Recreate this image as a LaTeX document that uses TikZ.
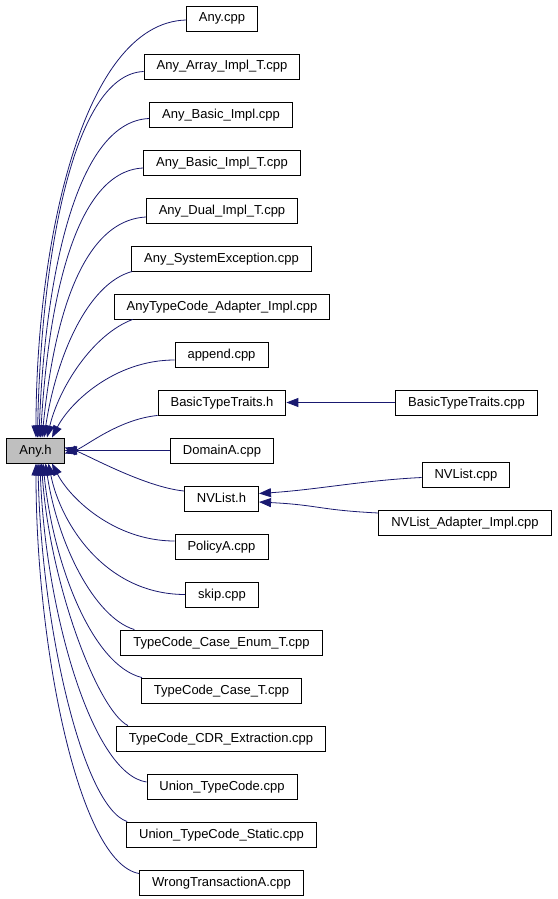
\documentclass[tikz,border=0pt]{standalone}
\usepackage{fontspec}
\setmainfont{Liberation Sans}
\usetikzlibrary{arrows.meta}
\definecolor{edgeblue}{RGB}{25,25,112}
\definecolor{hgray}{RGB}{191,191,191}
\begin{document}
\begin{tikzpicture}[x=1pt,y=-1pt,
  box/.style={draw=black, line width=0.9pt, minimum height=25pt, inner xsep=12.5pt, inner ysep=0pt,
    text height=9.5pt, text depth=2.5pt, font=\fontsize{13}{15}\selectfont, fill=white},
  dep/.style={draw=edgeblue, line width=0.8pt, -{Triangle[length=12pt,width=9pt]}},
]
\path[use as bounding box] (0,0) rectangle (557,899);

\node[box, fill=hgray] (anyh) at (35.5,450.5) {Any.h};

\node[box] (anycpp)  at (222,18.5)  {Any.cpp};
\node[box] (array)   at (222,66.5)  {Any\_Array\_Impl\_T.cpp};
\node[box] (basic)   at (221,114.5) {Any\_Basic\_Impl.cpp};
\node[box] (basict)  at (222,162.5) {Any\_Basic\_Impl\_T.cpp};
\node[box] (dual)    at (222,210.5) {Any\_Dual\_Impl\_T.cpp};
\node[box] (sysexc)  at (221.5,258.5) {Any\_SystemException.cpp};
\node[box] (atc)     at (222,306.5) {AnyTypeCode\_Adapter\_Impl.cpp};
\node[box] (append)  at (221.5,354.5) {append.cpp};
\node[box] (btth)    at (222,402.5) {BasicTypeTraits.h};
\node[box] (domain)  at (222,450.5) {DomainA.cpp};
\node[box] (nvlisth) at (221.5,498.5) {NVList.h};
\node[box] (policy)  at (221.5,546.5) {PolicyA.cpp};
\node[box] (skip)    at (222,594.5) {skip.cpp};
\node[box] (enum)    at (221.5,642.5) {TypeCode\_Case\_Enum\_T.cpp};
\node[box] (caset)   at (221.5,690.5) {TypeCode\_Case\_T.cpp};
\node[box] (cdr)     at (221,738.5) {TypeCode\_CDR\_Extraction.cpp};
\node[box] (union)   at (222,786.5) {Union\_TypeCode.cpp};
\node[box] (ustatic) at (221.5,834.5) {Union\_TypeCode\_Static.cpp};
\node[box] (wrong)   at (221.5,882.5) {WrongTransactionA.cpp};

\node[box] (bttcpp)    at (466.5,402.5) {BasicTypeTraits.cpp};
\node[box] (nvlistcpp) at (466,474.5)   {NVList.cpp};
\node[box] (nvadapter) at (465,522.5)   {NVList\_Adapter\_Impl.cpp};

% upper group -> top of Any.h
\draw[dep] ([yshift=-1.5pt]anycpp.west) .. controls +(-105,3) and +(0,-189) .. ([xshift=0.5pt]anyh.north);
\draw[dep] ([yshift=-5pt]array.west) .. controls +(-74,3) and +(3,-165) .. ([xshift=2pt]anyh.north);
\draw[dep] ([yshift=-4pt]basic.west) .. controls +(-77,3) and +(5,-144) .. ([xshift=3.5pt]anyh.north);
\draw[dep] ([yshift=-5.5pt]basict.west) .. controls +(-72,3) and +(7,-122) .. ([xshift=5pt]anyh.north);
\draw[dep] ([yshift=-6.5pt]dual.west) .. controls +(-70,4) and +(10,-100) .. ([xshift=6.5pt]anyh.north);
\draw[dep] ([xshift=1pt]sysexc.south west) .. controls +(-45,12) and +(12,-80) .. ([xshift=8.5pt]anyh.north);
\draw[dep] ([xshift=19pt]atc.south west) .. controls +(-40,15) and +(12,-50) .. ([xshift=11.5pt]anyh.north);
\draw[dep] ([yshift=-5.5pt]append.west) .. controls +(-60,0) and +(18,-35) .. ([xshift=16.5pt]anyh.north);

% side group
\draw[dep] (btth.south west) .. controls +(-40,4) and +(20,-6) .. ([yshift=-3pt]anyh.east);
\draw[dep] (domain) -- (anyh);
\draw[dep] ([yshift=7.5pt]nvlisth.west) .. controls +(-40,-4) and +(20,6) .. ([yshift=3pt]anyh.east);

% lower group -> bottom of Any.h
\draw[dep] ([yshift=5.5pt]policy.west) .. controls +(-60,0) and +(18,35) .. ([xshift=16.5pt]anyh.south);
\draw[dep] (skip.west) .. controls +(-80,0) and +(12,60) .. ([xshift=13pt]anyh.south);
\draw[dep] ([xshift=14pt]enum.north west) .. controls +(-40,-12) and +(12,80) .. ([xshift=10pt]anyh.south);
\draw[dep] ([xshift=1pt]caset.north west) .. controls +(-50,-12) and +(10,100) .. ([xshift=7.5pt]anyh.south);
\draw[dep] ([xshift=12pt]cdr.north west) .. controls +(-30,-15) and +(8,120) .. ([xshift=6pt]anyh.south);
\draw[dep] ([yshift=4.5pt]union.west) .. controls +(-55,-8) and +(5,145) .. ([xshift=4.5pt]anyh.south);
\draw[dep] ([xshift=1pt]ustatic.north west) .. controls +(-45,-15) and +(3,160) .. ([xshift=2.5pt]anyh.south);
\draw[dep] ([yshift=9pt]wrong.west) .. controls +(-60,-10) and +(0,185) .. ([xshift=0.5pt]anyh.south);

% right column
\draw[dep] (bttcpp) -- (btth);
\draw[dep] ([yshift=-3pt]nvlistcpp.west) .. controls +(-60,3) and +(60,-4) .. ([yshift=5pt]nvlisth.east);
\draw[dep] ([yshift=9.5pt]nvadapter.west) .. controls +(-60,-3) and +(60,3) .. ([yshift=-3.5pt]nvlisth.east);
\end{tikzpicture}
\end{document}
